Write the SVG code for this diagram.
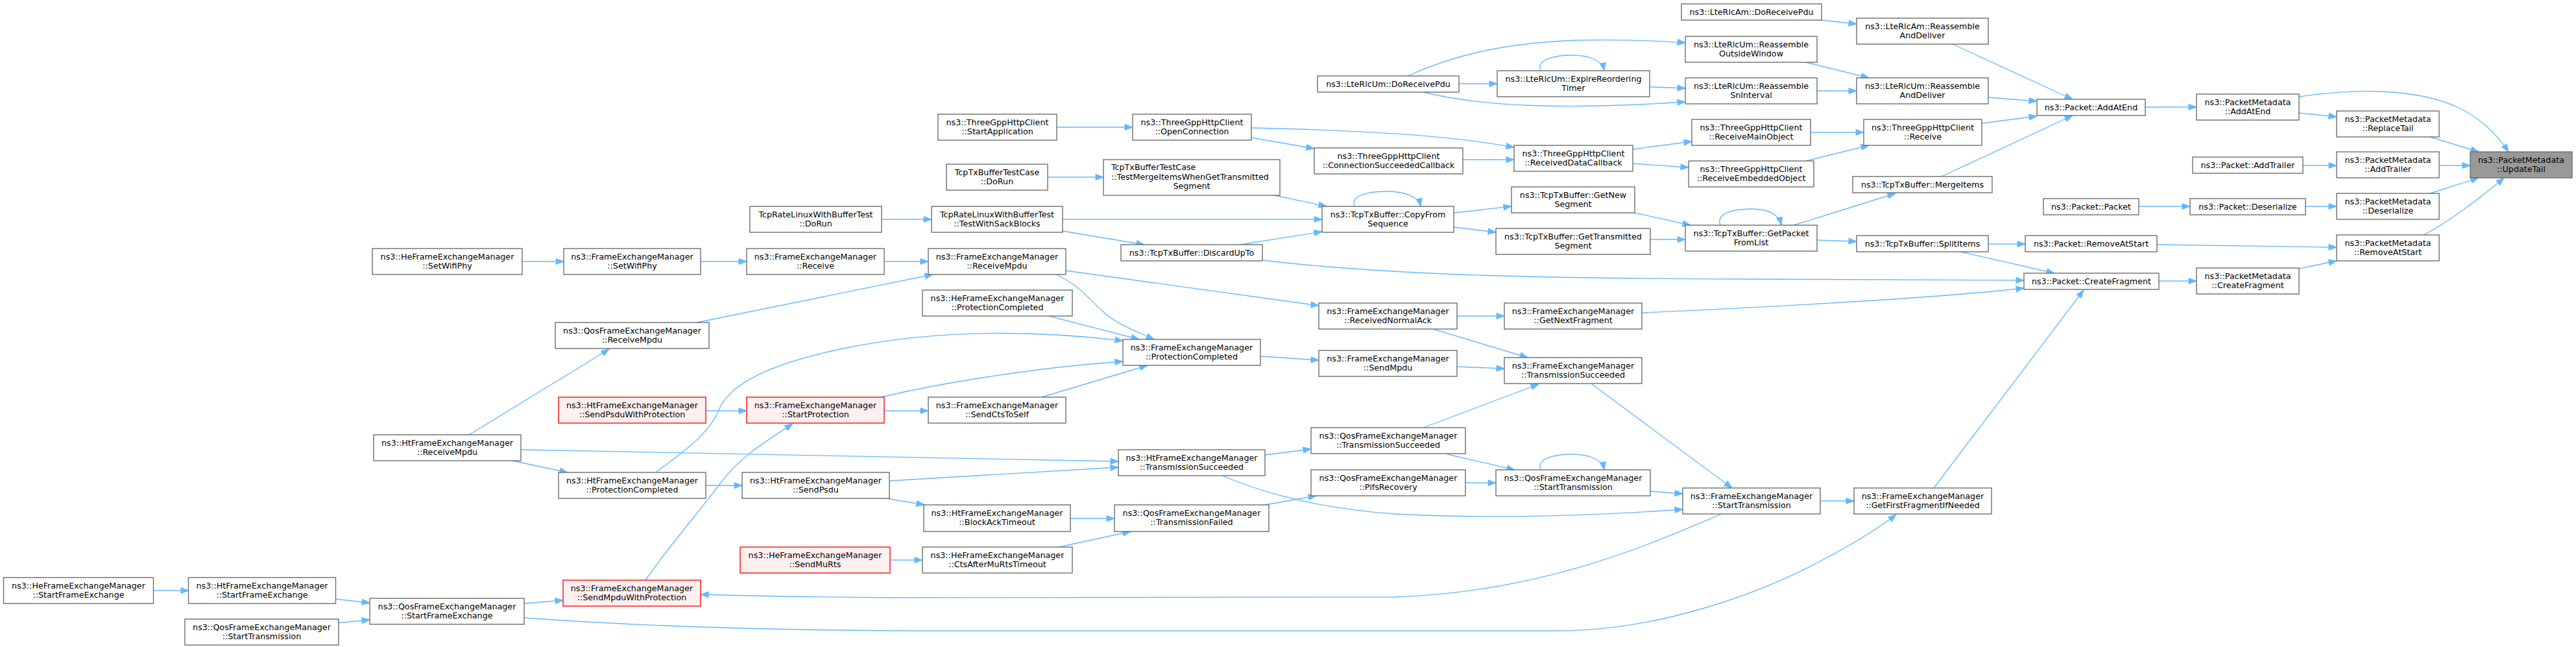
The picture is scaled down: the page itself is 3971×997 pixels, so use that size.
<svg xmlns="http://www.w3.org/2000/svg" width="3971" height="997" viewBox="0 0 3971 997">
<style>
.n rect{fill:#ffffff;stroke:#666666;stroke-width:1.33}
.r rect{fill:#fff0f0;stroke:#ff0000;stroke-width:1.33}
.g rect{fill:#999999;stroke:#666666;stroke-width:1.33}
text{font-family:"DejaVu Sans","Liberation Sans",sans-serif;font-size:12.7px;text-anchor:middle;fill:#000000}
text.l{text-anchor:start}
#edges path{fill:none;stroke:#63b8ff;stroke-width:1.33;marker-end:url(#a)}
</style>
<defs>
<marker id="a" markerWidth="13" markerHeight="10" refX="12" refY="4.5" orient="auto" markerUnits="userSpaceOnUse" overflow="visible">
<path d="M0,0 L12,4.5 L0,9 z" fill="#63b8ff" stroke="#63b8ff" stroke-width="1"/>
</marker>
</defs>
<rect x="0" y="0" width="3971" height="997" fill="#ffffff"/>
<g id="edges">
<path d="M3307,165 L3386,165"/>
<path d="M3544,149 C3620,138 3720,133 3790,166 C3825,183 3850,208 3867,234"/>
<path d="M3544,174 L3602,180"/>
<path d="M3746,211 L3821,234"/>
<path d="M3550,255 L3602,255"/>
<path d="M3760,255 L3808,255"/>
<path d="M3297,318 L3376,318"/>
<path d="M3554,318 L3602,318"/>
<path d="M3746,298 L3821,274"/>
<path d="M3736,362 C3775,342 3830,300 3860,274"/>
<path d="M3325,377 L3602,381"/>
<path d="M3544,414 L3602,402"/>
<path d="M3328,433 L3386,433"/>
<path d="M2808,31 L2862,37"/>
<path d="M3010,68 L3195,153"/>
<path d="M2784,96 L2881,120"/>
<path d="M2801,140 L2862,140"/>
<path d="M3065,150 L3140,156"/>
<path d="M2791,204 L2873,204"/>
<path d="M2784,248 L2881,224"/>
<path d="M3055,190 L3140,179"/>
<path d="M2993,272 L3195,178"/>
<path d="M2765,347 L2922,298"/>
<path d="M2652,347 C2645,330 2668,322 2700,322 C2725,322 2742,330 2746,347"/>
<path d="M2801,370 L2862,372"/>
<path d="M3065,376 L3122,376"/>
<path d="M3022,388 L3167,421"/>
<path d="M1946,401 C2150,425 2400,429 2670,430 C2900,431 3000,431 3120,432"/>
<path d="M2531,482 C2750,472 3000,458 3120,444"/>
<path d="M2981,752 L3212,447"/>
<path d="M2170,117 C2240,85 2320,66 2430,62 C2500,61 2560,63 2598,66"/>
<path d="M2249,129 L2308,129"/>
<path d="M2375,109 C2368,92 2395,85 2423,85 C2450,85 2470,93 2473,109"/>
<path d="M2543,134 L2598,136"/>
<path d="M2194,142 C2280,163 2400,170 2598,157"/>
<path d="M1929,197 C2100,201 2230,208 2334,227"/>
<path d="M1929,212 L2026,229"/>
<path d="M2255,246 L2334,246"/>
<path d="M2517,230 L2608,218"/>
<path d="M2517,252 L2603,258"/>
<path d="M2088,318 C2081,301 2110,295 2138,295 C2165,295 2187,303 2190,318"/>
<path d="M1964,301 L2045,318"/>
<path d="M1638,338 L2038,338"/>
<path d="M1912,377 L2038,357"/>
<path d="M2241,328 L2330,318"/>
<path d="M2241,350 L2306,358"/>
<path d="M2520,328 L2606,347"/>
<path d="M2544,369 L2598,369"/>
<path d="M1643,417 L2033,471"/>
<path d="M2246,487 L2319,487"/>
<path d="M2209,507 L2355,551"/>
<path d="M1629,196 L1746,196"/>
<path d="M1615,273 L1701,273"/>
<path d="M1359,338 L1436,338"/>
<path d="M1638,356 L1764,377"/>
<path d="M1363,403 L1431,403"/>
<path d="M1074,497 L1438,423"/>
<path d="M1628,423 C1665,440 1680,462 1698,478 C1718,498 1750,510 1779,523"/>
<path d="M1617,487 L1756,523"/>
<path d="M805,403 L869,403"/>
<path d="M1080,403 L1151,403"/>
<path d="M2806,772 L2858,772"/>
<path d="M2454,592 L2670,752"/>
<path d="M808,952 C1000,966 1200,972 1450,972 L2400,972 C2550,972 2700,920 2800,868 C2850,842 2890,818 2923,793"/>
<path d="M1943,549 L2033,555"/>
<path d="M2246,565 L2319,568"/>
<path d="M2194,659 L2372,592"/>
<path d="M1950,701 L2021,692"/>
<path d="M2231,700 L2335,724"/>
<path d="M2375,724 C2368,707 2395,700 2423,700 C2450,700 2470,708 2473,724"/>
<path d="M2259,744 L2306,744"/>
<path d="M2544,757 L2594,761"/>
<path d="M1950,778 L2029,764"/>
<path d="M1884,733 C1960,765 2050,785 2150,792 C2300,800 2450,795 2594,785"/>
<path d="M2654,792 C2540,840 2380,912 2150,920 L1370,921 C1250,920 1150,918 1080,916"/>
<path d="M1012,727 C1060,692 1095,665 1108,632 C1125,590 1190,560 1300,537 C1420,512 1560,505 1731,525"/>
<path d="M1358,612 C1450,590 1600,566 1731,557"/>
<path d="M1606,612 L1769,563"/>
<path d="M1363,633 L1431,633"/>
<path d="M803,693 C1200,700 1500,706 1724,711"/>
<path d="M1370,741 L1724,720"/>
<path d="M1367,768 L1425,778"/>
<path d="M1650,799 L1718,799"/>
<path d="M1632,843 L1743,819"/>
<path d="M1372,863 L1422,863"/>
<path d="M723,670 L939,538"/>
<path d="M1088,633 L1151,633"/>
<path d="M790,710 L875,728"/>
<path d="M1088,748 L1144,748"/>
<path d="M995,894 C1040,830 1085,780 1110,745 C1140,705 1180,680 1222,653"/>
<path d="M808,930 L868,925"/>
<path d="M236,910 L291,910"/>
<path d="M517,923 L570,929"/>
<path d="M522,960 L570,955"/>
</g>
<g id="updatetail" class="g"><rect x="3808" y="234" width="157" height="40"/><text x="3886.5" y="250.5">ns3::PacketMetadata</text><text x="3886.5" y="264.5">::UpdateTail</text></g>
<g id="pm_addatend" class="n"><rect x="3386" y="145" width="158" height="40"/><text x="3465" y="161.5">ns3::PacketMetadata</text><text x="3465" y="175.5">::AddAtEnd</text></g>
<g id="pm_replacetail" class="n"><rect x="3602" y="171" width="158" height="40"/><text x="3681" y="187.5">ns3::PacketMetadata</text><text x="3681" y="201.5">::ReplaceTail</text></g>
<g id="p_addtrailer" class="n"><rect x="3380" y="242" width="170" height="25"/><text x="3465" y="258.5">ns3::Packet::AddTrailer</text></g>
<g id="pm_addtrailer" class="n"><rect x="3602" y="234" width="158" height="40"/><text x="3681" y="250.5">ns3::PacketMetadata</text><text x="3681" y="264.5">::AddTrailer</text></g>
<g id="p_deserialize" class="n"><rect x="3376" y="306" width="178" height="25"/><text x="3465" y="322.5">ns3::Packet::Deserialize</text></g>
<g id="pm_deserialize" class="n"><rect x="3602" y="298" width="158" height="40"/><text x="3681" y="314.5">ns3::PacketMetadata</text><text x="3681" y="328.5">::Deserialize</text></g>
<g id="pm_removeatstart" class="n"><rect x="3602" y="362" width="158" height="40"/><text x="3681" y="378.5">ns3::PacketMetadata</text><text x="3681" y="392.5">::RemoveAtStart</text></g>
<g id="pm_createfragment" class="n"><rect x="3386" y="413" width="158" height="40"/><text x="3465" y="429.5">ns3::PacketMetadata</text><text x="3465" y="443.5">::CreateFragment</text></g>
<g id="p_addatend" class="n"><rect x="3140" y="153" width="167" height="25"/><text x="3223.5" y="169.5">ns3::Packet::AddAtEnd</text></g>
<g id="p_packet" class="n"><rect x="3150" y="306" width="147" height="25"/><text x="3223.5" y="322.5">ns3::Packet::Packet</text></g>
<g id="p_removeatstart" class="n"><rect x="3122" y="363" width="203" height="25"/><text x="3223.5" y="379.5">ns3::Packet::RemoveAtStart</text></g>
<g id="p_createfragment" class="n"><rect x="3120" y="421" width="208" height="25"/><text x="3224" y="437.5">ns3::Packet::CreateFragment</text></g>
<g id="am_doreceivepdu" class="n"><rect x="2592" y="6" width="216" height="25"/><text x="2700" y="22.5">ns3::LteRlcAm::DoReceivePdu</text></g>
<g id="am_reassemble" class="n"><rect x="2862" y="28" width="203" height="40"/><text x="2963.5" y="44.5">ns3::LteRlcAm::Reassemble</text><text x="2963.5" y="58.5">AndDeliver</text></g>
<g id="um_outside" class="n"><rect x="2598" y="56" width="203" height="40"/><text x="2699.5" y="72.5">ns3::LteRlcUm::Reassemble</text><text x="2699.5" y="86.5">OutsideWindow</text></g>
<g id="um_sninterval" class="n"><rect x="2598" y="120" width="203" height="40"/><text x="2699.5" y="136.5">ns3::LteRlcUm::Reassemble</text><text x="2699.5" y="150.5">SnInterval</text></g>
<g id="um_reassemble" class="n"><rect x="2862" y="120" width="203" height="40"/><text x="2963.5" y="136.5">ns3::LteRlcUm::Reassemble</text><text x="2963.5" y="150.5">AndDeliver</text></g>
<g id="http_mainobj" class="n"><rect x="2608" y="184" width="183" height="40"/><text x="2699.5" y="200.5">ns3::ThreeGppHttpClient</text><text x="2699.5" y="214.5">::ReceiveMainObject</text></g>
<g id="http_receive" class="n"><rect x="2873" y="184" width="182" height="40"/><text x="2964" y="200.5">ns3::ThreeGppHttpClient</text><text x="2964" y="214.5">::Receive</text></g>
<g id="http_embedded" class="n"><rect x="2603" y="248" width="193" height="40"/><text x="2699.5" y="264.5">ns3::ThreeGppHttpClient</text><text x="2699.5" y="278.5">::ReceiveEmbeddedObject</text></g>
<g id="tcp_mergeitems" class="n"><rect x="2856" y="272" width="215" height="25"/><text x="2963.5" y="288.5">ns3::TcpTxBuffer::MergeItems</text></g>
<g id="tcp_getpacketfromlist" class="n"><rect x="2598" y="347" width="203" height="40"/><text x="2699.5" y="363.5">ns3::TcpTxBuffer::GetPacket</text><text x="2699.5" y="377.5">FromList</text></g>
<g id="tcp_splititems" class="n"><rect x="2862" y="363" width="203" height="25"/><text x="2963.5" y="379.5">ns3::TcpTxBuffer::SplitItems</text></g>
<g id="um_doreceivepdu" class="n"><rect x="2031" y="117" width="218" height="25"/><text x="2140" y="133.5">ns3::LteRlcUm::DoReceivePdu</text></g>
<g id="um_expire" class="n"><rect x="2308" y="109" width="235" height="40"/><text x="2425.5" y="125.5">ns3::LteRlcUm::ExpireReordering</text><text x="2425.5" y="139.5">Timer</text></g>
<g id="http_connsucc" class="n"><rect x="2026" y="228" width="229" height="40"/><text x="2140.5" y="244.5">ns3::ThreeGppHttpClient</text><text x="2140.5" y="258.5">::ConnectionSucceededCallback</text></g>
<g id="http_recvdata" class="n"><rect x="2334" y="224" width="183" height="40"/><text x="2425.5" y="240.5">ns3::ThreeGppHttpClient</text><text x="2425.5" y="254.5">::ReceivedDataCallback</text></g>
<g id="tcp_copyfrom" class="n"><rect x="2038" y="318" width="203" height="40"/><text x="2139.5" y="334.5">ns3::TcpTxBuffer::CopyFrom</text><text x="2139.5" y="348.5">Sequence</text></g>
<g id="tcp_getnew" class="n"><rect x="2330" y="288" width="190" height="40"/><text x="2425" y="304.5">ns3::TcpTxBuffer::GetNew</text><text x="2425" y="318.5">Segment</text></g>
<g id="tcp_gettransmitted" class="n"><rect x="2306" y="352" width="238" height="40"/><text x="2425" y="368.5">ns3::TcpTxBuffer::GetTransmitted</text><text x="2425" y="382.5">Segment</text></g>
<g id="fem_receivednormalack" class="n"><rect x="2033" y="467" width="213" height="40"/><text x="2139.5" y="483.5">ns3::FrameExchangeManager</text><text x="2139.5" y="497.5">::ReceivedNormalAck</text></g>
<g id="fem_getnextfragment" class="n"><rect x="2319" y="467" width="212" height="40"/><text x="2425" y="483.5">ns3::FrameExchangeManager</text><text x="2425" y="497.5">::GetNextFragment</text></g>
<g id="http_startapp" class="n"><rect x="1446" y="176" width="183" height="40"/><text x="1537.5" y="192.5">ns3::ThreeGppHttpClient</text><text x="1537.5" y="206.5">::StartApplication</text></g>
<g id="http_openconn" class="n"><rect x="1746" y="176" width="183" height="40"/><text x="1837.5" y="192.5">ns3::ThreeGppHttpClient</text><text x="1837.5" y="206.5">::OpenConnection</text></g>
<g id="tcptest_dorun" class="n"><rect x="1459" y="253" width="156" height="40"/><text x="1537" y="269.5">TcpTxBufferTestCase</text><text x="1537" y="283.5">::DoRun</text></g>
<g id="tcptest_merge" class="n"><rect x="1701" y="246" width="272" height="55"/><text class="l" x="1713" y="262">TcpTxBufferTestCase</text><text class="l" x="1713" y="276.5">::TestMergeItemsWhenGetTransmitted</text><text x="1837" y="291">Segment</text></g>
<g id="tcprate_sack" class="n"><rect x="1436" y="318" width="202" height="40"/><text x="1537" y="334.5">TcpRateLinuxWithBufferTest</text><text x="1537" y="348.5">::TestWithSackBlocks</text></g>
<g id="tcp_discard" class="n"><rect x="1728" y="377" width="218" height="25"/><text x="1837" y="393.5">ns3::TcpTxBuffer::DiscardUpTo</text></g>
<g id="fem_receivempdu" class="n"><rect x="1431" y="383" width="212" height="40"/><text x="1537" y="399.5">ns3::FrameExchangeManager</text><text x="1537" y="413.5">::ReceiveMpdu</text></g>
<g id="he_protcompleted" class="n"><rect x="1422" y="447" width="231" height="40"/><text x="1537.5" y="463.5">ns3::HeFrameExchangeManager</text><text x="1537.5" y="477.5">::ProtectionCompleted</text></g>
<g id="he_setwifiphy" class="n"><rect x="574" y="383" width="231" height="40"/><text x="689.5" y="399.5">ns3::HeFrameExchangeManager</text><text x="689.5" y="413.5">::SetWifiPhy</text></g>
<g id="fem_setwifiphy" class="n"><rect x="869" y="383" width="211" height="40"/><text x="974.5" y="399.5">ns3::FrameExchangeManager</text><text x="974.5" y="413.5">::SetWifiPhy</text></g>
<g id="fem_receive" class="n"><rect x="1151" y="383" width="212" height="40"/><text x="1257" y="399.5">ns3::FrameExchangeManager</text><text x="1257" y="413.5">::Receive</text></g>
<g id="tcprate_dorun" class="n"><rect x="1156" y="318" width="203" height="40"/><text x="1257.5" y="334.5">TcpRateLinuxWithBufferTest</text><text x="1257.5" y="348.5">::DoRun</text></g>
<g id="qos_receivempdu" class="n"><rect x="856" y="497" width="237" height="40"/><text x="974.5" y="513.5">ns3::QosFrameExchangeManager</text><text x="974.5" y="527.5">::ReceiveMpdu</text></g>
<g id="fem_starttransmission" class="n"><rect x="2594" y="752" width="212" height="40"/><text x="2700" y="768.5">ns3::FrameExchangeManager</text><text x="2700" y="782.5">::StartTransmission</text></g>
<g id="fem_getfirstfrag" class="n"><rect x="2858" y="752" width="212" height="40"/><text x="2964" y="768.5">ns3::FrameExchangeManager</text><text x="2964" y="782.5">::GetFirstFragmentIfNeeded</text></g>
<g id="fem_sendmpdu" class="n"><rect x="2033" y="540" width="213" height="40"/><text x="2139.5" y="556.5">ns3::FrameExchangeManager</text><text x="2139.5" y="570.5">::SendMpdu</text></g>
<g id="fem_transsucc" class="n"><rect x="2319" y="551" width="212" height="40"/><text x="2425" y="567.5">ns3::FrameExchangeManager</text><text x="2425" y="581.5">::TransmissionSucceeded</text></g>
<g id="qos_transsucc" class="n"><rect x="2021" y="659" width="238" height="40"/><text x="2140" y="675.5">ns3::QosFrameExchangeManager</text><text x="2140" y="689.5">::TransmissionSucceeded</text></g>
<g id="qos_pifs" class="n"><rect x="2021" y="724" width="238" height="40"/><text x="2140" y="740.5">ns3::QosFrameExchangeManager</text><text x="2140" y="754.5">::PifsRecovery</text></g>
<g id="qos_starttrans" class="n"><rect x="2306" y="724" width="238" height="40"/><text x="2425" y="740.5">ns3::QosFrameExchangeManager</text><text x="2425" y="754.5">::StartTransmission</text></g>
<g id="fem_protcompleted" class="n"><rect x="1731" y="523" width="212" height="40"/><text x="1837" y="539.5">ns3::FrameExchangeManager</text><text x="1837" y="553.5">::ProtectionCompleted</text></g>
<g id="fem_startprotection" class="r"><rect x="1151" y="612" width="212" height="40"/><text x="1257" y="628.5">ns3::FrameExchangeManager</text><text x="1257" y="642.5">::StartProtection</text></g>
<g id="fem_sendctstoself" class="n"><rect x="1431" y="612" width="212" height="40"/><text x="1537" y="628.5">ns3::FrameExchangeManager</text><text x="1537" y="642.5">::SendCtsToSelf</text></g>
<g id="ht_transsucc" class="n"><rect x="1724" y="693" width="226" height="40"/><text x="1837" y="709.5">ns3::HtFrameExchangeManager</text><text x="1837" y="723.5">::TransmissionSucceeded</text></g>
<g id="ht_sendpsdu" class="n"><rect x="1144" y="728" width="227" height="40"/><text x="1257.5" y="744.5">ns3::HtFrameExchangeManager</text><text x="1257.5" y="758.5">::SendPsdu</text></g>
<g id="ht_blockack" class="n"><rect x="1424" y="778" width="226" height="41"/><text x="1537" y="794.5">ns3::HtFrameExchangeManager</text><text x="1537" y="808.5">::BlockAckTimeout</text></g>
<g id="qos_transfailed" class="n"><rect x="1718" y="778" width="238" height="41"/><text x="1837" y="794.5">ns3::QosFrameExchangeManager</text><text x="1837" y="808.5">::TransmissionFailed</text></g>
<g id="he_sendmurts" class="r"><rect x="1141" y="843" width="231" height="40"/><text x="1256.5" y="859.5">ns3::HeFrameExchangeManager</text><text x="1256.5" y="873.5">::SendMuRts</text></g>
<g id="he_ctsafter" class="n"><rect x="1422" y="843" width="231" height="40"/><text x="1537.5" y="859.5">ns3::HeFrameExchangeManager</text><text x="1537.5" y="873.5">::CtsAfterMuRtsTimeout</text></g>
<g id="ht_sendpsduwithprot" class="r"><rect x="861" y="612" width="227" height="40"/><text x="974.5" y="628.5">ns3::HtFrameExchangeManager</text><text x="974.5" y="642.5">::SendPsduWithProtection</text></g>
<g id="ht_receivempdu" class="n"><rect x="576" y="670" width="227" height="40"/><text x="689.5" y="686.5">ns3::HtFrameExchangeManager</text><text x="689.5" y="700.5">::ReceiveMpdu</text></g>
<g id="ht_protcompleted" class="n"><rect x="861" y="728" width="227" height="40"/><text x="974.5" y="744.5">ns3::HtFrameExchangeManager</text><text x="974.5" y="758.5">::ProtectionCompleted</text></g>
<g id="fem_sendmpduwithprot" class="r"><rect x="868" y="894" width="212" height="40"/><text x="974" y="910.5">ns3::FrameExchangeManager</text><text x="974" y="924.5">::SendMpduWithProtection</text></g>
<g id="qos_startframeexchange" class="n"><rect x="570" y="922" width="238" height="40"/><text x="689" y="938.5">ns3::QosFrameExchangeManager</text><text x="689" y="952.5">::StartFrameExchange</text></g>
<g id="he_startframeexchange" class="n"><rect x="5.5" y="890" width="231" height="40"/><text x="121" y="906.5">ns3::HeFrameExchangeManager</text><text x="121" y="920.5">::StartFrameExchange</text></g>
<g id="ht_startframeexchange" class="n"><rect x="290.5" y="890" width="227" height="40"/><text x="404" y="906.5">ns3::HtFrameExchangeManager</text><text x="404" y="920.5">::StartFrameExchange</text></g>
<g id="qos_starttrans2" class="n"><rect x="285" y="954" width="237" height="40"/><text x="403.5" y="970.5">ns3::QosFrameExchangeManager</text><text x="403.5" y="984.5">::StartTransmission</text></g>
</svg>
